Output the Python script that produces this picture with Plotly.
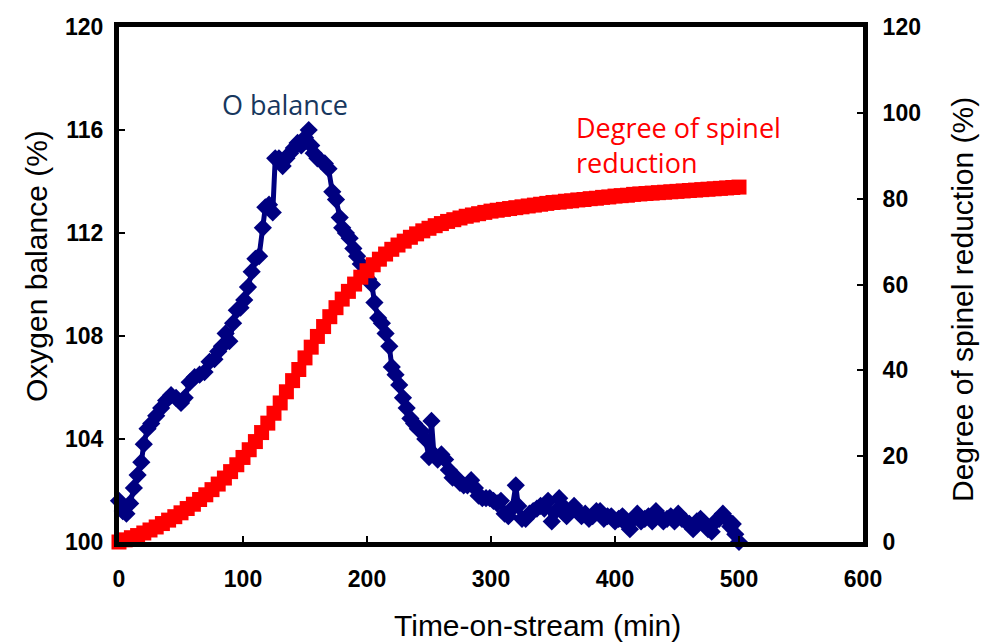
import plotly.graph_objects as go

# Oxygen balance (%) vs time-on-stream (min)
o_time = [0, 3, 6, 9, 12, 15, 18, 20, 23, 26, 30, 34, 38, 42, 46, 50, 53, 57, 61, 65,
          69, 73, 77, 80, 83, 86, 89, 92, 95, 98, 101, 104, 107, 110, 113, 116, 118, 121,
          124, 126, 129, 132, 135, 138, 141, 144, 147, 150, 153, 155, 157, 160, 163, 166,
          169, 172, 175, 178, 180, 183, 186, 189, 192, 195, 198, 201, 204, 206, 209, 212,
          215, 218, 220, 223, 226, 229, 232, 235, 238, 241, 244, 247, 250, 252, 254, 257,
          260, 263, 266, 269, 272, 275, 278, 281, 284, 287, 290, 293, 296, 299, 302, 305,
          308, 311, 314, 317, 320, 322, 325, 328, 331, 334, 337, 340, 343, 346, 349, 352,
          355, 358, 361, 364, 367, 370, 373, 376, 379, 382, 385, 388, 391, 394, 397, 400,
          403, 406, 409, 412, 415, 418, 421, 424, 427, 430, 433, 436, 439, 442, 445, 448,
          451, 454, 457, 460, 463, 466, 469, 472, 475, 478, 481, 484, 487, 490, 493, 495,
          497, 500]
o_balance = [101.6, 101.2, 101.1, 101.5, 102.1, 102.6, 103.1, 103.8, 104.4, 104.6, 104.9,
             105.2, 105.5, 105.7, 105.6, 105.4, 105.6, 106.2, 106.4, 106.5, 106.6, 107.0,
             107.1, 107.4, 107.6, 108.1, 107.8, 108.5, 109.0, 109.1, 109.4, 109.9, 110.5,
             111.0, 111.1, 112.2, 113.0, 113.1, 112.8, 114.9, 114.9, 114.6, 114.9, 115.1,
             115.3, 115.5, 115.4, 115.7, 116.0, 115.4, 115.1, 114.9, 114.8, 114.7, 114.5,
             113.6, 113.3, 112.6, 112.2, 112.0, 111.8, 111.4, 111.1, 110.8, 110.5, 110.2,
             110.0, 109.3, 108.7, 108.5, 108.1, 107.6, 106.8, 106.5, 106.1, 105.6, 105.2,
             104.8, 104.6, 104.4, 104.3, 104.0, 103.3, 104.7, 103.4, 103.2, 103.4, 103.2,
             102.8, 102.5, 102.5, 102.3, 102.2, 102.2, 102.4, 102.1, 101.8, 101.7, 101.7,
             101.7, 101.6, 101.5, 101.6, 101.1, 101.0, 101.3, 102.2, 101.4, 100.9, 100.9,
             101.1, 101.2, 101.3, 101.4, 101.3, 101.6, 100.8, 101.2, 101.7, 101.4, 101.0,
             101.2, 101.4, 101.2, 101.0, 101.1, 100.9, 101.0, 101.2, 101.2, 100.9, 101.0,
             101.0, 100.8, 100.9, 101.0, 100.7, 100.5, 100.9, 101.1, 100.8, 100.9, 101.0,
             100.8, 101.2, 101.0, 100.8, 100.9, 101.0, 100.8, 101.1, 100.9, 100.8, 100.7,
             100.5, 100.8, 100.9, 100.7, 100.5, 100.4, 100.8, 100.9, 101.1, 100.9, 100.6,
             100.7, 100.3, 100.0]

# Degree of spinel reduction (%) sampled every 5 min
red_time = list(range(0, 505, 5))
red_degree = [0.0, 0.5, 1.0, 1.5, 2.1, 2.8, 3.5, 4.3, 5.1, 5.9, 6.8, 7.8, 8.8, 9.9, 11.0,
              12.2, 13.5, 14.9, 16.4, 18.0, 19.7, 21.5, 23.4, 25.5, 27.7, 30.0, 32.4, 35.0,
              37.6, 40.2, 42.9, 45.4, 47.9, 50.2, 52.5, 54.6, 56.6, 58.4, 60.1, 61.7, 63.2,
              64.6, 65.9, 67.1, 68.2, 69.2, 70.1, 71.0, 71.8, 72.5, 73.1, 73.7, 74.2, 74.7,
              75.1, 75.5, 75.9, 76.2, 76.5, 76.8, 77.1, 77.3, 77.5, 77.7, 77.9, 78.1, 78.3,
              78.5, 78.7, 78.9, 79.1, 79.2, 79.4, 79.5, 79.7, 79.8, 80.0, 80.1, 80.3, 80.4,
              80.6, 80.7, 80.8, 81.0, 81.1, 81.2, 81.3, 81.4, 81.5, 81.6, 81.7, 81.8, 81.9,
              82.0, 82.1, 82.2, 82.3, 82.4, 82.5, 82.6, 82.7]

x_ticks = [0, 100, 200, 300, 400, 500, 600]
y_ticks = [100, 104, 108, 112, 116, 120]
y2_ticks = [0, 20, 40, 60, 80, 100, 120]

NAVY = "#000080"
RED = "#FF0000"
FONT = "Liberation Sans"
LABEL_FONT = "Open Sans"
TITLE_FONT = dict(family=FONT, size=30, color="black")

fig = go.Figure()

fig.add_trace(go.Scatter(
    x=red_time, y=red_degree, yaxis="y2", mode="markers",
    marker=dict(symbol="square", size=15, color=RED, line=dict(width=0)),
    cliponaxis=False, showlegend=False,
))

fig.add_trace(go.Scatter(
    x=o_time, y=o_balance, mode="lines+markers",
    line=dict(color=NAVY, width=5),
    marker=dict(symbol="diamond", size=14, color=NAVY, line=dict(width=0)),
    cliponaxis=False, showlegend=False,
))

axis_common = dict(
    showgrid=False, zeroline=False, showline=True, linecolor="black", linewidth=5,
    ticks="inside", ticklen=6, tickwidth=2, tickcolor="black",
    tickfont=dict(family=FONT, size=23, color="black", weight="bold"),
)

fig.update_layout(
    width=985, height=642,
    margin=dict(l=119, r=122, t=27, b=100),
    paper_bgcolor="white", plot_bgcolor="white",
    xaxis=dict(range=[0, 600], tickvals=x_ticks, mirror=True, ticklabelstandoff=12,
               **axis_common),
    yaxis=dict(range=[100, 120], tickvals=y_ticks, ticklabelstandoff=6,
               **axis_common),
    yaxis2=dict(range=[0, 120], tickvals=y2_ticks, overlaying="y", side="right",
                ticklabelstandoff=10, **axis_common),
    annotations=[
        # axis titles
        dict(x=537, y=625, xref="paper", yref="paper", text="Time-on-stream (min)",
             showarrow=False, font=TITLE_FONT, xanchor="center", yanchor="middle"),
        dict(x=36, y=266, xref="paper", yref="paper", text="Oxygen balance (%)",
             showarrow=False, font=TITLE_FONT, textangle=-90,
             xanchor="center", yanchor="middle"),
        dict(x=962, y=300, xref="paper", yref="paper", text="Degree of spinel reduction (%)",
             showarrow=False, font=TITLE_FONT, textangle=-90,
             xanchor="center", yanchor="middle"),
        # series labels
        dict(x=134, y=117.0, xref="x", yref="y", text="O balance", showarrow=False,
             font=dict(family=LABEL_FONT, size=27, color="#17375E")),
        dict(x=367, y=115.4, xref="x", yref="y", xanchor="left", align="left",
             text="Degree of spinel<br>reduction", showarrow=False,
             font=dict(family=LABEL_FONT, size=27, color=RED)),
    ],
)

# title annotations are given in pixels; convert to paper fractions
W, H = 985, 642
L, R, T, B = 119, 122, 27, 100
pw, ph = W - L - R, H - T - B
for ann in fig.layout.annotations[:3]:
    ann.x = (ann.x - L) / pw
    ann.y = 1 - (ann.y - T) / ph

fig.write_html("out.html")
